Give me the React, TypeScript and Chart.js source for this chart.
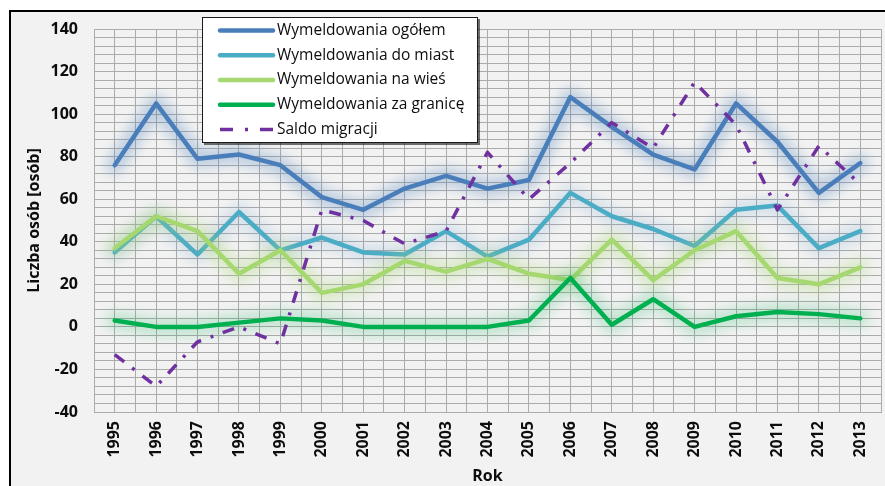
import React, { useEffect, useRef } from 'react';
import { Chart, registerables } from 'chart.js';

Chart.register(...registerables);

const years = [1995, 1996, 1997, 1998, 1999, 2000, 2001, 2002, 2003, 2004, 2005, 2006, 2007, 2008, 2009, 2010, 2011, 2012, 2013];
const ogolem = [76, 105, 79, 81, 76, 61, 55, 65, 71, 65, 69, 108, 94, 81, 74, 105, 87, 63, 77];
const doMiast = [35, 52, 34, 54, 36, 42, 35, 34, 45, 33, 41, 63, 52, 46, 38, 55, 57, 37, 45];
const naWies = [37, 52, 45, 25, 36, 16, 20, 31, 26, 32, 25, 22, 41, 22, 36, 45, 23, 20, 28];
const zaGranice = [3, 0, 0, 2, 4, 3, 0, 0, 0, 0, 3, 23, 1, 13, 0, 5, 7, 6, 4];
const saldo = [-13, -28, -7, 0, -8, 55, 50, 39, 45, 82, 60, 77, 96, 84, 115, 95, 55, 85, 67];

const seriesLabels = [
  'Wymeldowania ogółem',
  'Wymeldowania do miast',
  'Wymeldowania na wieś',
  'Wymeldowania za granicę',
  'Saldo migracji',
];
const seriesColors = ['#4a7ebb', '#4bacc6', '#a5d86e', '#00b050', '#7030a0'];
const glowColors = [
  'rgba(74,126,187,0.30)',
  'rgba(75,140,198,0.16)',
  'rgba(165,216,110,0.32)',
  'rgba(0,176,80,0.20)',
  null,
];

const yMin = -40;
const yMax = 140;
const yMinorStep = 4;
const yLabelStep = 20;

const xTitle = 'Rok';
const yTitle = 'Liczba osób [osób]';

const FONT = '"Open Sans", "Noto Sans", sans-serif';

const bgPlugin = {
  id: 'bgFrame',
  beforeDraw(chart: any) {
    const { ctx, width, height } = chart;
    ctx.save();
    ctx.fillStyle = '#ffffff';
    ctx.fillRect(0, 0, width, height);
    ctx.fillStyle = '#000000';
    ctx.fillRect(9, 10, width - 9, height - 10);
    ctx.fillStyle = '#f2f2f2';
    ctx.fillRect(11, 12, width - 11, height - 12);
    ctx.restore();
  },
};

const glowPlugin = {
  id: 'glow',
  beforeDatasetDraw(chart: any, args: any) {
    const color = glowColors[args.index];
    if (!color) return;
    const pts = args.meta.data;
    if (!pts || !pts.length) return;
    const ctx = chart.ctx;
    ctx.save();
    ctx.filter = 'blur(6px)';
    ctx.strokeStyle = color;
    ctx.lineWidth = 18;
    ctx.lineJoin = 'round';
    ctx.lineCap = 'round';
    ctx.beginPath();
    pts.forEach((p: any, i: number) => {
      if (i === 0) ctx.moveTo(p.x, p.y);
      else ctx.lineTo(p.x, p.y);
    });
    ctx.stroke();
    ctx.restore();
  },
};

const legendPlugin = {
  id: 'boxLegend',
  afterDraw(chart: any) {
    const ctx = chart.ctx;
    const x0 = 202;
    const y0 = 17;
    const w = 276;
    const h = 126;
    ctx.save();
    ctx.fillStyle = 'rgba(0,0,0,0.55)';
    ctx.fillRect(x0 + 2, y0 + 2, w, h);
    ctx.fillStyle = '#ffffff';
    ctx.fillRect(x0, y0, w, h);
    ctx.strokeStyle = '#1a1a1a';
    ctx.lineWidth = 1;
    ctx.strokeRect(x0 + 0.5, y0 + 0.5, w - 1, h - 1);
    ctx.font = `15.5px ${FONT}`;
    ctx.textBaseline = 'middle';
    ctx.textAlign = 'left';
    chart.data.datasets.forEach((ds: any, i: number) => {
      const y = 30.5 + i * 24.75;
      ctx.beginPath();
      ctx.moveTo(220, y);
      ctx.lineTo(273, y);
      ctx.strokeStyle = ds.borderColor;
      ctx.lineWidth = ds.borderWidth;
      ctx.lineCap = i === 4 ? 'butt' : 'round';
      ctx.setLineDash(i === 4 ? [13, 12, 3, 12] : []);
      ctx.stroke();
      ctx.setLineDash([]);
      ctx.fillStyle = '#0d0d0d';
      ctx.fillText(ds.label, 277, y);
    });
    ctx.restore();
  },
};

export default function App() {
  const ref = useRef<HTMLCanvasElement | null>(null);

  useEffect(() => {
    if (!ref.current) return;
    const series = [ogolem, doMiast, naWies, zaGranice, saldo];
    const datasets = series.map((vals, i) => ({
      label: seriesLabels[i],
      data: vals.map((v, j) => ({ x: years[j], y: v })),
      borderColor: seriesColors[i],
      backgroundColor: seriesColors[i],
      borderWidth: i === 4 ? 3.5 : 4.5,
      borderDash: i === 4 ? [12, 10, 3, 10] : [],
      borderCapStyle: i === 4 ? 'butt' : 'round',
      borderJoinStyle: 'round',
      pointRadius: 0,
      pointHoverRadius: 0,
      tension: 0,
      fill: false,
      order: 4 - i,
    }));

    const gridColor = '#ababab';
    const tickFont = { family: FONT, size: 16, weight: 'bold' as const };

    const chart = new Chart(ref.current, {
      type: 'line',
      data: { datasets } as any,
      options: {
        responsive: false,
        animation: false,
        devicePixelRatio: 1,
        layout: { padding: { left: 25, top: 29, right: 4, bottom: 0 } },
        plugins: {
          legend: { display: false },
          tooltip: { enabled: false },
        },
        scales: {
          x: {
            type: 'linear',
            min: years[0] - 0.5,
            max: years[years.length - 1] + 0.5,
            afterBuildTicks(scale: any) {
              const t: any[] = [];
              for (let k = 0; k <= years.length * 2; k++) t.push({ value: years[0] - 0.5 + k * 0.5 });
              scale.ticks = t;
            },
            afterFit(scale: any) {
              scale.height = 74;
              scale.paddingLeft = 0;
              scale.paddingRight = 0;
            },
            grid: { color: gridColor, lineWidth: 1, drawTicks: false },
            border: { color: gridColor, width: 1 },
            ticks: {
              autoSkip: false,
              maxRotation: 90,
              minRotation: 90,
              padding: 9,
              color: '#0d0d0d',
              font: tickFont,
              callback: (v: any) => (Number.isInteger(Number(v)) ? String(v) : ''),
            },
            title: {
              display: true,
              text: xTitle,
              color: '#0d0d0d',
              font: { family: FONT, size: 16, weight: 'bold' },
              padding: { top: 0, bottom: 0 },
            },
          },
          y: {
            type: 'linear',
            min: yMin,
            max: yMax,
            afterBuildTicks(scale: any) {
              const t: any[] = [];
              for (let v = yMin; v <= yMax; v += yMinorStep) t.push({ value: v });
              scale.ticks = t;
            },
            afterFit(scale: any) {
              scale.width = 69;
              scale.paddingTop = 0;
              scale.paddingBottom = 0;
            },
            grid: { color: gridColor, lineWidth: 1, drawTicks: false },
            border: { color: gridColor, width: 1 },
            ticks: {
              autoSkip: false,
              padding: 16,
              color: '#0d0d0d',
              font: tickFont,
              callback: (v: any) => (Number(v) % yLabelStep === 0 ? String(v) : ''),
            },
            title: {
              display: true,
              text: yTitle,
              color: '#0d0d0d',
              font: { family: FONT, size: 16, weight: 'bold' },
              padding: { top: 0, bottom: 0 },
            },
          },
        },
      } as any,
      plugins: [bgPlugin, glowPlugin, legendPlugin],
    });
    return () => chart.destroy();
  }, []);

  return (
    <div style={{ position: 'fixed', left: 0, top: 0, width: 885, height: 486, background: '#fff' }}>
      <canvas ref={ref} width={885} height={486} style={{ display: 'block', width: 885, height: 486 }} />
    </div>
  );
}
